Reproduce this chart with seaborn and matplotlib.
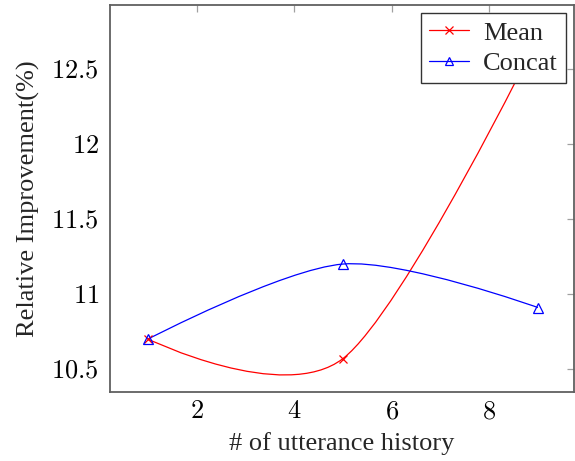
import numpy as np
import pandas as pd
import seaborn as sns
import matplotlib
matplotlib.use("Agg")
import matplotlib.pyplot as plt
from matplotlib.path import Path
from matplotlib.patches import PathPatch
from matplotlib.lines import Line2D

# ---- data ----
history = [1, 5, 9]
mean_vals = [10.70, 10.57, 12.71]
concat_vals = [10.70, 11.20, 10.91]
series_names = ["Mean", "Concat"]
x_ticks = [2, 4, 6, 8]
x_tick_labels = ["2", "4", "6", "8"]
y_ticks = [10.5, 11, 11.5, 12, 12.5]
y_tick_labels = ["10.5", "11", "11.5", "12", "12.5"]

sns.set_theme(style="white")
plt.rcParams["font.family"] = ["Liberation Serif", "DejaVu Serif"]
plt.rcParams["mathtext.fontset"] = "cm"

FS = 19

fig = plt.figure(figsize=(5.75, 4.61), dpi=100)
W, H = 575, 461
left, right, top, bottom = 110, 574, 5, 391.7
ax = fig.add_axes([left / W, (H - bottom) / H, (right - left) / W, (bottom - top) / H])


def smooth_path(xs, ys, tension=0.55):
    """pgfplots-style 'smooth' curve through the data points."""
    f = 0.2775 * tension
    pts = np.column_stack([xs, ys]).astype(float)
    n = len(pts)
    verts = [pts[0]]
    codes = [Path.MOVETO]
    for i in range(n - 1):
        p0, p1 = pts[i], pts[i + 1]
        c1 = p0 + f * (pts[i + 1] - pts[i - 1]) if i > 0 else p0
        c2 = p1 - f * (pts[i + 2] - pts[i]) if i + 2 < n else p1
        verts += [c1, c2, p1]
        codes += [Path.CURVE4] * 3
    return Path(verts, codes)


df = pd.DataFrame({"history": history, "Mean": mean_vals, "Concat": concat_vals})

# smooth lines
ax.add_patch(PathPatch(smooth_path(df["history"], df["Mean"]), facecolor="none",
                       edgecolor="red", lw=0.9, zorder=2))
ax.add_patch(PathPatch(smooth_path(df["history"], df["Concat"]), facecolor="none",
                       edgecolor="blue", lw=0.9, zorder=2))

# markers
sns.lineplot(data=df, x="history", y="Mean", ax=ax, linestyle="none", marker="x",
             color="red", markeredgecolor="red", markersize=6, markeredgewidth=0.9,
             zorder=3)
sns.lineplot(data=df, x="history", y="Concat", ax=ax, linestyle="none", marker="^",
             color="blue", markerfacecolor="none", markeredgecolor="blue",
             markersize=7, markeredgewidth=0.9, zorder=3)

ax.set_xlim(0.22, 9.74)
ax.set_ylim(10.349, 12.927)
ax.set_xticks(x_ticks)
ax.set_xticklabels([f"${t}$" for t in x_tick_labels])
ax.set_yticks(y_ticks)
ax.set_yticklabels([f"${t}$" for t in y_tick_labels])

ax.tick_params(axis="both", which="both", direction="in", length=5, width=0.9,
               color="#a0a0a0", labelsize=FS, top=True, right=True,
               labelcolor="black")
ax.tick_params(axis="x", pad=7)
ax.tick_params(axis="y", pad=8)
for s in ax.spines.values():
    s.set_color("#606060")
    s.set_linewidth(1.3)

ax.set_xlabel("# of utterance history", fontsize=FS, labelpad=6)
ax.set_ylabel("Relative Improvement(%)", fontsize=FS, labelpad=8)

handles = [
    Line2D([], [], color="red", lw=0.9, marker="x", markersize=6, markeredgewidth=0.9),
    Line2D([], [], color="blue", lw=0.9, marker="^", markersize=6,
           markerfacecolor="none", markeredgewidth=0.9),
]
leg = ax.legend(handles, series_names, loc="upper right",
                bbox_to_anchor=((565.7 - left) / (right - left), (bottom - 13.3) / (bottom - top)),
                borderaxespad=0, fontsize=FS, frameon=True, fancybox=False,
                handlelength=1.5, handletextpad=0.55, borderpad=0.3, labelspacing=0.27)
leg.get_frame().set_edgecolor("#333333")
leg.get_frame().set_linewidth(1.0)
leg.get_frame().set_alpha(1)

fig.savefig("out.png", dpi=100)
